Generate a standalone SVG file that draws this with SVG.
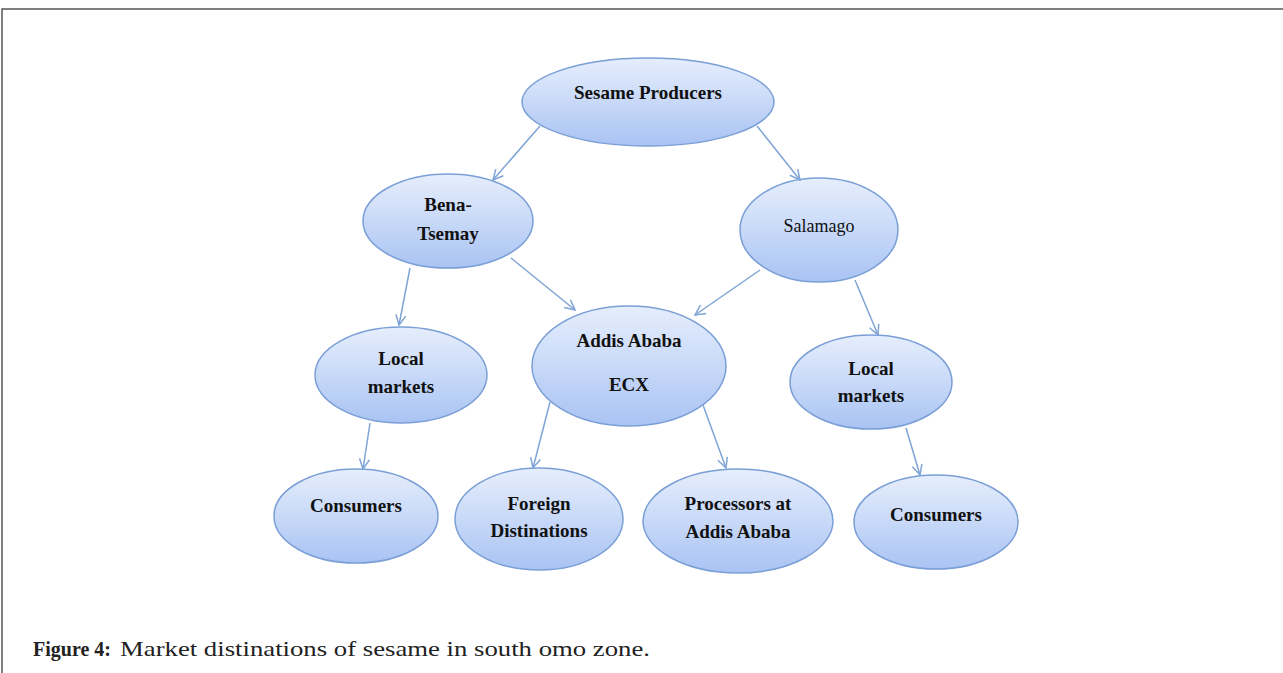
<svg xmlns="http://www.w3.org/2000/svg" width="1283" height="673" viewBox="0 0 1283 673">
<style>
.n{fill:url(#g);stroke:#7a9fd6;stroke-width:1.5}
.t{font-family:"Liberation Serif",serif;font-weight:bold;font-size:19px;fill:#111;text-anchor:middle}
.r{font-weight:normal;font-size:18px}
.c{stroke:#7fa4d6;stroke-width:1.5;fill:none;marker-end:url(#a)}
.cap{font-family:"Liberation Serif",serif;font-size:21px;fill:#222}
</style>
<defs>
<linearGradient id="g" x1="0" y1="0" x2="0" y2="1">
<stop offset="0" stop-color="#e6eefc"/>
<stop offset="0.5" stop-color="#c8d9f8"/>
<stop offset="1" stop-color="#a9c3f3"/>
</linearGradient>
<marker id="a" viewBox="0 0 12 12" refX="11" refY="6" markerWidth="12" markerHeight="12" markerUnits="userSpaceOnUse" orient="auto">
<path d="M1,1 L11,6 L1,11" fill="none" stroke="#7fa4d6" stroke-width="1.5"/>
</marker>
</defs>
<rect width="1283" height="673" fill="#fff"/>
<path d="M2,673 V9 H1283" fill="none" stroke="#555" stroke-width="1.5"/>
<g id="sesame-producers"><ellipse class="n" cx="648" cy="102" rx="126" ry="44"/><text class="t" x="648" y="99">Sesame Producers</text></g>
<g id="bena-tsemay"><ellipse class="n" cx="448" cy="221" rx="85" ry="47"/><text class="t" x="448" y="211">Bena-</text><text class="t" x="448" y="240">Tsemay</text></g>
<g id="salamago"><ellipse class="n" cx="819" cy="230" rx="79" ry="52"/><text class="t r" x="819" y="232">Salamago</text></g>
<g id="local-markets-left"><ellipse class="n" cx="401" cy="375" rx="86" ry="48"/><text class="t" x="401" y="365">Local</text><text class="t" x="401" y="393">markets</text></g>
<g id="addis-ababa-ecx"><ellipse class="n" cx="629" cy="366" rx="97" ry="60"/><text class="t" x="629" y="347">Addis Ababa</text><text class="t" x="629" y="391">ECX</text></g>
<g id="local-markets-right"><ellipse class="n" cx="871" cy="382" rx="81" ry="47"/><text class="t" x="871" y="375">Local</text><text class="t" x="871" y="402">markets</text></g>
<g id="consumers-left"><ellipse class="n" cx="356" cy="516" rx="82" ry="47"/><text class="t" x="356" y="512">Consumers</text></g>
<g id="foreign-distinations"><ellipse class="n" cx="539" cy="519" rx="84" ry="51"/><text class="t" x="539" y="510">Foreign</text><text class="t" x="539" y="537">Distinations</text></g>
<g id="processors"><ellipse class="n" cx="738" cy="521" rx="95" ry="52"/><text class="t" x="738" y="510">Processors at</text><text class="t" x="738" y="538">Addis Ababa</text></g>
<g id="consumers-right"><ellipse class="n" cx="936" cy="522" rx="82" ry="47"/><text class="t" x="936" y="521">Consumers</text></g>
<g id="connectors">
<line class="c" x1="540" y1="126" x2="493" y2="180"/>
<line class="c" x1="757" y1="126" x2="800" y2="180"/>
<line class="c" x1="410" y1="268" x2="399" y2="325"/>
<line class="c" x1="511" y1="258" x2="575" y2="310"/>
<line class="c" x1="760" y1="270" x2="695" y2="315"/>
<line class="c" x1="855" y1="280" x2="878" y2="335"/>
<line class="c" x1="370" y1="423" x2="363" y2="469"/>
<line class="c" x1="550" y1="402" x2="533" y2="468"/>
<line class="c" x1="703" y1="405" x2="726" y2="468"/>
<line class="c" x1="906" y1="428" x2="920" y2="475"/>
</g>
<text class="cap" x="33" y="656" font-weight="bold" style="font-size:20px">Figure 4:</text>
<text class="cap" x="120" y="656" textLength="530" lengthAdjust="spacingAndGlyphs">Market distinations of sesame in south omo zone.</text>
</svg>
